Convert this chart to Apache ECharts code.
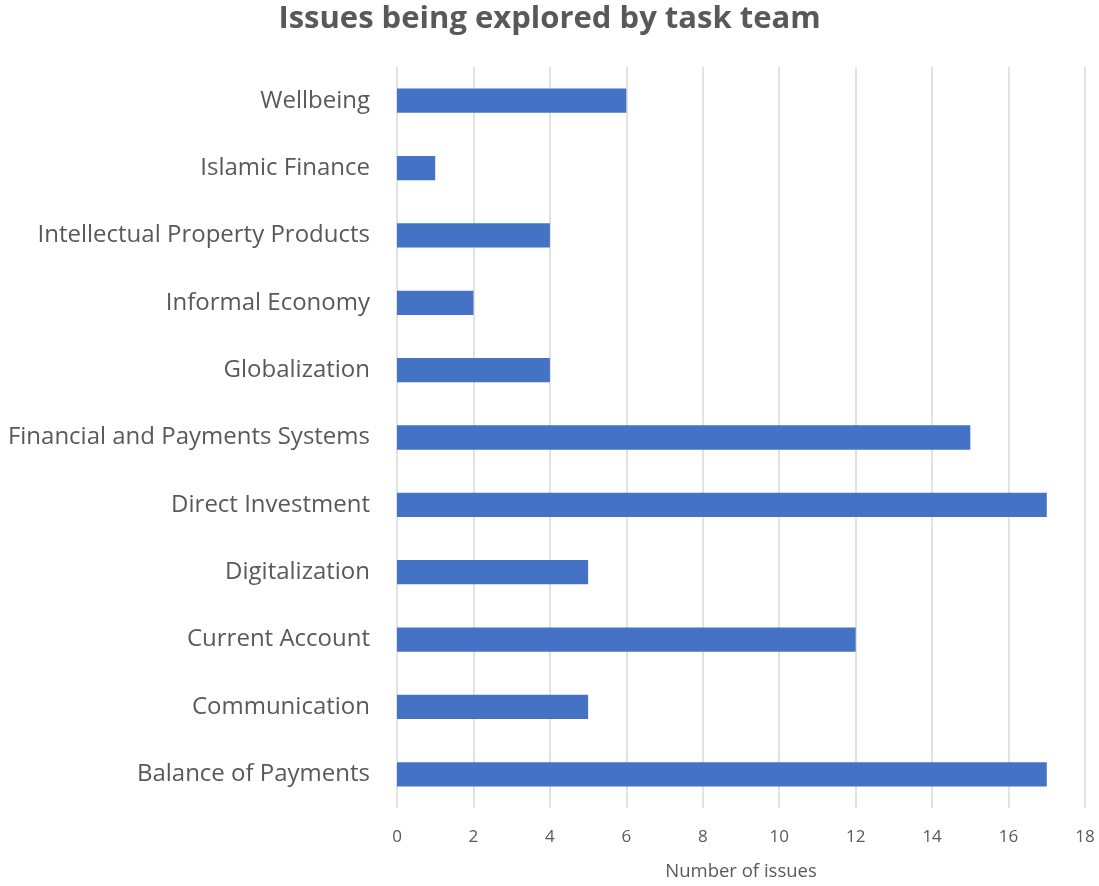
<!DOCTYPE html>
<html><head><meta charset="utf-8">
<script src="https://cdn.jsdelivr.net/npm/echarts@6/dist/echarts.min.js"></script>
<style>html,body{margin:0;padding:0;background:#fff}#c{width:1099px;height:886px}</style>
</head><body><div id="c"></div>
<script>
const categories = ["Balance of Payments","Communication","Current Account","Digitalization","Direct Investment","Financial and Payments Systems","Globalization","Informal Economy","Intellectual Property Products","Islamic Finance","Wellbeing"];
const issueCounts = [17,5,12,5,17,15,4,2,4,1,6];
const xTicks = {min:0,max:18,interval:2};
const chart = echarts.init(document.getElementById('c'));
chart.setOption({
  animation:false,
  textStyle:{fontFamily:'Open Sans'},
  title:{text:'Issues being explored by task team',left:'center',top:-1,
    textStyle:{fontFamily:'Open Sans',fontWeight:'bold',fontSize:31,color:'#595959'}},
  grid:{left:397,right:14,top:67,bottom:75,containLabel:false},
  xAxis:{type:'value',min:xTicks.min,max:xTicks.max,interval:xTicks.interval,
    name:'Number of issues',nameLocation:'middle',nameGap:54,
    nameTextStyle:{fontSize:18.5,color:'#595959'},
    axisLine:{show:false},axisTick:{show:false},
    axisLabel:{fontSize:17,color:'#595959',margin:21},
    splitLine:{lineStyle:{color:'#d9d9d9',width:1.5}}},
  yAxis:{type:'category',data:categories,
    axisLine:{show:false},axisTick:{show:false},
    axisLabel:{fontSize:24,color:'#595959',margin:27,padding:[4,0,0,0]}},
  series:[{type:'bar',data:issueCounts,barCategoryGap:'64%',
    itemStyle:{color:'#4472C4'}}]
});
</script></body></html>
